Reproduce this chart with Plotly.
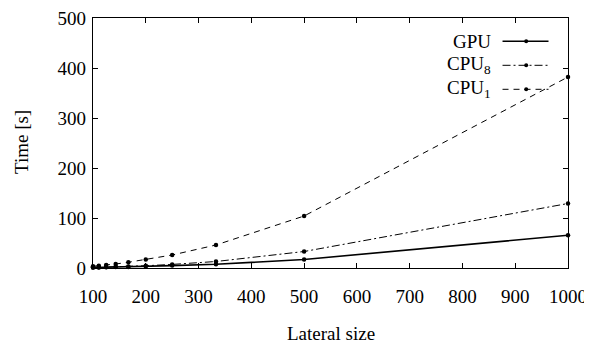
import plotly.graph_objects as go

# Data
lateral_size = [100, 111, 125, 143, 167, 200, 250, 333, 500, 1000]
gpu = [1.0, 1.2, 1.5, 1.8, 2.2, 3.0, 4.8, 7.5, 17, 65.5]
cpu8 = [1.2, 1.5, 1.9, 2.4, 3.2, 4.5, 7.2, 13, 33, 129]
cpu1 = [3.5, 4.5, 5.8, 8.0, 11.5, 17, 26, 46, 104, 382]
series_names = ["GPU", "CPU<sub>8</sub>", "CPU<sub>1</sub>"]
x_ticks = [100, 200, 300, 400, 500, 600, 700, 800, 900, 1000]
y_ticks = [0, 100, 200, 300, 400, 500]

FONT = "Liberation Serif"
FS = 19

OFF = 8  # default body margin of the html page
L, R, T, B = 93.3, 568.5, 17.7, 267.7
W, H = 592, 347

def px(xp):
    return (xp - L) / (R - L)

def py(yp):
    return (B - yp) / (B - T)

styles = [
    dict(width=1.6, dash="solid"),
    dict(width=1.0, dash="8px,3px,2px,3px"),
    dict(width=1.0, dash="6px,5px"),
]
ys = [gpu, cpu8, cpu1]

fig = go.Figure()
for name, y, st in zip(series_names, ys, styles):
    fig.add_trace(go.Scatter(
        x=lateral_size, y=y, mode="lines+markers", name=name,
        line=dict(color="black", width=st["width"], dash=st["dash"]),
        marker=dict(color="black", size=4.5, symbol="circle"),
        showlegend=False, cliponaxis=False,
    ))

# manual legend (text left of sample)
leg_y = [41, 65, 89]
for name, st, yy in zip(series_names, styles, leg_y):
    fig.add_annotation(x=px(493), y=py(yy), xref="paper", yref="paper",
                       text=name, showarrow=False, xanchor="right", yanchor="middle",
                       font=dict(family=FONT, size=FS, color="black"))
    fig.add_shape(type="line", xref="paper", yref="paper",
                  x0=px(503), x1=px(549), y0=py(yy), y1=py(yy),
                  line=dict(color="black", width=st["width"], dash=st["dash"]))
    fig.add_shape(type="circle", xref="paper", yref="paper",
                  x0=px(526.7 - 2), x1=px(526.7 + 2), y0=py(yy + 2), y1=py(yy - 2),
                  fillcolor="black", line=dict(color="black", width=0))

# axis titles
fig.add_annotation(x=px(331), y=py(333), xref="paper", yref="paper",
                   text="Lateral size", showarrow=False, xanchor="center", yanchor="middle",
                   font=dict(family=FONT, size=FS, color="black"))
fig.add_annotation(x=px(22), y=py(142), xref="paper", yref="paper",
                   text="Time [s]", showarrow=False, textangle=-90,
                   xanchor="center", yanchor="middle",
                   font=dict(family=FONT, size=FS, color="black"))

axis_common = dict(
    showgrid=False, zeroline=False, showline=True, linecolor="black", linewidth=1.2,
    mirror="ticks", ticks="inside", ticklen=5, tickcolor="black", tickwidth=1,
    tickfont=dict(family=FONT, size=FS, color="black"),
    ticklabeloverflow="allow",
)
fig.update_xaxes(range=[100, 1000], tickvals=x_ticks, ticktext=[str(v) for v in x_ticks],
                 ticklabelstandoff=11, **axis_common)
fig.update_yaxes(range=[0, 500], tickvals=y_ticks, ticktext=[str(v) for v in y_ticks],
                 ticklabelstandoff=2, **axis_common)

fig.update_layout(
    width=W - OFF, height=H - OFF,
    margin=dict(l=L - OFF, r=W - R, t=T - OFF, b=H - B, pad=0, autoexpand=False),
    plot_bgcolor="white", paper_bgcolor="white",
    font=dict(family=FONT, size=FS, color="black"),
)
fig.write_html("out.html")
